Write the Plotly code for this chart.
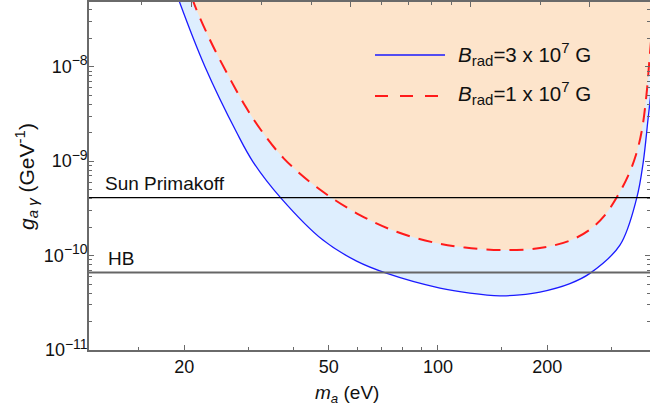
import plotly.graph_objects as go

# ---- data ----
blue_m = [19.20, 19.41, 22.81, 27.94, 30.93, 36.94, 48.22, 59.70, 72.37, 101.28, 122.5, 148.2,
          168.2, 190.9, 231.0, 262.2, 317.2, 352.7, 367.8, 378.9, 385.0, 388.6]
blue_g = [5.47e-8, 4.845e-8, 1.0e-8, 1.985e-9, 9.85e-10, 4.065e-10, 1.459e-10, 8.74e-11, 6.48e-11,
          4.525e-11, 4.006e-11, 3.75e-11, 3.834e-11, 4.105e-11, 5.05e-11, 6.48e-11, 1.291e-10,
          4.035e-10, 9.78e-10, 2.724e-9, 4.775e-9, 7.23e-9]

red_m = [21.05, 21.21, 23.48, 26.48, 29.68, 32.53, 37.53, 46.27, 60.96, 76.93, 98.1, 118.7, 151.1,
         190.9, 231.0, 262.2, 288.4, 311.3, 333.8, 351.1, 364.7, 375.3, 382.5, 387.4]
red_g = [5.47e-8, 4.845e-8, 1.966e-8, 7.97e-9, 3.65e-9, 2.136e-9, 1.078e-9, 5.316e-10, 2.686e-10,
         1.787e-10, 1.367e-10, 1.216e-10, 1.143e-10, 1.201e-10, 1.442e-10, 1.885e-10, 2.686e-10,
         4.166e-10, 6.953e-10, 1.160e-9, 2.136e-9, 5.014e-9, 1.178e-8, 2.114e-8]

sun_g = 4.1e-10
hb_g = 6.6e-11
limit_m = [9.0, 420.0]
g_top = 1e-6

x_ticks = [20, 50, 100, 200]
x_minor = [15, 30, 40, 60, 70, 80, 90, 150, 300]
top_ticks = [0.4, 1, 2, 4]
top_minor = [0.3, 0.6, 0.8, 1.2, 1.4, 1.6, 1.8, 3]
y_ticks = [1e-11, 1e-10, 1e-9, 1e-8]
y_exps = ["\u221211", "\u221210", "\u22129", "\u22128"]
y_minor = [k * 10.0 ** e for e in (-11, -10, -9, -8) for k in range(2, 10) if k * 10.0 ** e < 5e-8]

# ---- layout geometry ----
W, H = 650, 413
L, R, T, B = 89, 0, 2, 63
PW, PH = W - L - R, H - T - B


def px(x):
    return (x - L) / PW


def py(y):
    return (H - B - y) / PH


def sup(s, size):
    return '<sup><span style="font-size:%dpx">%s</span></sup>' % (size, s)


def sub(s, size):
    return '<sub><span style="font-size:%dpx">%s</span></sub>' % (size, s)


FONT = "Liberation Sans"
AX = "#6a6a6a"
BLUE = "#1a1aff"
RED = "#ff1a1a"
TXT = "#111111"

fig = go.Figure()

# light blue region (above blue curve)
fig.add_trace(go.Scatter(x=[blue_m[0], blue_m[-1]], y=[g_top, g_top], mode="lines",
                         line=dict(width=0), showlegend=False, hoverinfo="skip"))
fig.add_trace(go.Scatter(x=blue_m, y=blue_g, mode="lines", line=dict(width=0, shape="spline"),
                         fill="tonexty", fillcolor="#DEEEFE", showlegend=False, hoverinfo="skip"))
# orange region (above red curve)
fig.add_trace(go.Scatter(x=[red_m[0], red_m[-1]], y=[g_top, g_top], mode="lines",
                         line=dict(width=0), showlegend=False, hoverinfo="skip"))
fig.add_trace(go.Scatter(x=red_m, y=red_g, mode="lines", line=dict(width=0, shape="spline"),
                         fill="tonexty", fillcolor="#FDE4CB", showlegend=False, hoverinfo="skip"))

# curves
fig.add_trace(go.Scatter(x=blue_m, y=blue_g, mode="lines",
                         line=dict(color=BLUE, width=1.3, shape="spline"), showlegend=False))
fig.add_trace(go.Scatter(x=red_m, y=red_g, mode="lines",
                         line=dict(color=RED, width=2, shape="spline", dash="14px,9px"),
                         showlegend=False))

# limits
fig.add_trace(go.Scatter(x=limit_m, y=[sun_g, sun_g], mode="lines",
                         line=dict(color="#000000", width=1.2), showlegend=False))
fig.add_trace(go.Scatter(x=limit_m, y=[hb_g, hb_g], mode="lines",
                         line=dict(color="#666666", width=2), showlegend=False))

# invisible trace to activate the top / right axes
fig.add_trace(go.Scatter(x=[1.0], y=[1e-12], xaxis="x2", yaxis="y2", mode="markers",
                         marker=dict(opacity=0), showlegend=False, hoverinfo="skip"))

xtickfont = dict(family=FONT, size=18, color=TXT)
ytickfont = dict(family=FONT, size=18, color=TXT)

fig.update_layout(
    width=W, height=H, margin=dict(l=L, r=R, t=T, b=B, pad=0),
    paper_bgcolor="white", plot_bgcolor="white",
    showlegend=False,
    xaxis=dict(type="log", range=[1.0386, 2.5842], tickmode="array", tickvals=x_ticks,
               ticktext=[str(v) for v in x_ticks], ticks="inside", ticklen=5, tickwidth=1,
               tickcolor=AX, showline=True, linecolor=AX, linewidth=1.5, mirror=False,
               showgrid=False, zeroline=False, tickfont=xtickfont,
               minor=dict(tickmode="array", tickvals=x_minor, ticks="inside", ticklen=3,
                          tickcolor=AX, showgrid=False)),
    xaxis2=dict(type="log", overlaying="x", side="top", anchor="y", range=[-0.6548, 0.7526],
                tickmode="array", tickvals=top_ticks, showticklabels=False, ticks="inside",
                ticklen=5, tickcolor=AX, showline=True, linecolor=AX, linewidth=1.5,
                showgrid=False, zeroline=False,
                minor=dict(tickmode="array", tickvals=top_minor, ticks="inside", ticklen=3,
                           tickcolor=AX, showgrid=False)),
    yaxis=dict(type="log", range=[-11, -7.3146], tickmode="array", tickvals=y_ticks,
               ticktext=["10" + sup(e, 14) for e in y_exps], ticks="inside", ticklen=5,
               tickcolor=AX, showline=True, ticklabelstandoff=-4,
               linecolor=AX, linewidth=1.5, mirror=False, showgrid=False, zeroline=False,
               tickfont=ytickfont,
               minor=dict(tickmode="array", tickvals=y_minor, ticks="inside", ticklen=3,
                          tickcolor=AX, showgrid=False)),
    yaxis2=dict(type="log", overlaying="y", side="right", anchor="x", range=[-11, -7.3146],
                tickmode="array", tickvals=y_ticks, showticklabels=False, ticks="inside",
                ticklen=5, tickcolor=AX, showline=False, showgrid=False, zeroline=False,
                minor=dict(tickmode="array", tickvals=y_minor, ticks="inside", ticklen=3,
                           tickcolor=AX, showgrid=False)),
)

lab = dict(family=FONT, size=19, color=TXT)
leg = dict(family=FONT, size=20.5, color=TXT)
ytit = dict(family=FONT, size=21, color=TXT)
ann = [
    dict(text="Sun Primakoff", x=px(103), y=py(183), xanchor="left", yanchor="middle", font=lab),
    dict(text="HB", x=px(106), y=py(258.5), xanchor="left", yanchor="middle", font=lab),
    dict(text="<i>m</i><sub><i>a</i></sub> (eV)", x=px(347), y=py(394), xanchor="center",
         yanchor="middle", font=lab),
    dict(text="<i>g</i>" + sub("<i>a \u03b3</i>", 15) + " (GeV" + sup("-1", 15) + ")",
         x=px(26), y=py(177), xanchor="center", yanchor="middle", textangle=-90, font=ytit),
    dict(text="<i>B</i>" + sub("rad", 15) + "=3 x 10" + sup("7", 15) + " G", x=px(456), y=py(54),
         xanchor="left", yanchor="middle", font=leg),
    dict(text="<i>B</i>" + sub("rad", 15) + "=1 x 10" + sup("7", 15) + " G", x=px(456), y=py(93),
         xanchor="left", yanchor="middle", font=leg),
]
for a in ann:
    fig.add_annotation(xref="paper", yref="paper", showarrow=False, **a)

# legend samples
fig.add_shape(type="line", xref="paper", yref="paper", x0=px(375), x1=px(445), y0=py(55), y1=py(55),
              line=dict(color=BLUE, width=1.3))
fig.add_shape(type="line", xref="paper", yref="paper", x0=px(375), x1=px(440), y0=py(96), y1=py(96),
              line=dict(color=RED, width=2, dash="13px,12px"))

fig.write_html("out.html")
